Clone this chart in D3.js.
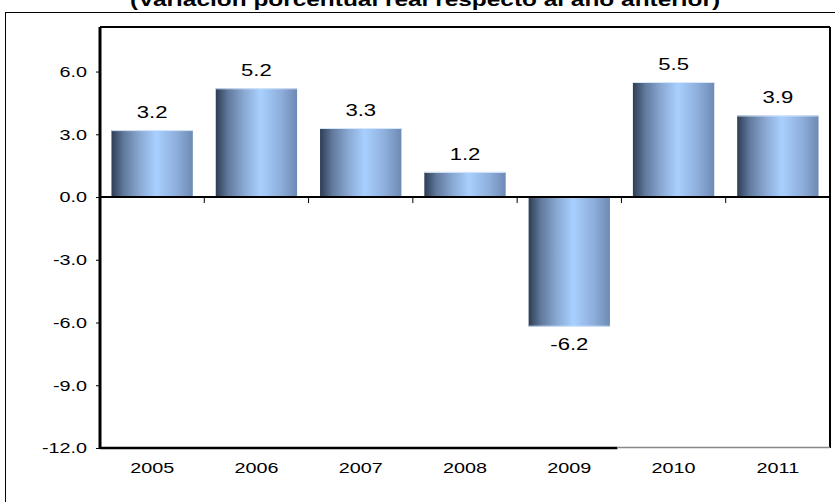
<!DOCTYPE html>
<html>
<head>
<meta charset="utf-8">
<script src="https://cdn.jsdelivr.net/npm/d3@7"></script>
<style>
  body { margin: 0; background: #fff; }
  text { font-family: "Liberation Sans", Arial, sans-serif; fill: #000; }
</style>
</head>
<body>
<div class="chart"></div>
<script>
// data
var years = ["2005", "2006", "2007", "2008", "2009", "2010", "2011"];
var values = [3.2, 5.2, 3.3, 1.2, -6.2, 5.5, 3.9];
var yTicks = [6, 3, 0, -3, -6, -9, -12];
var title = "(Variación porcentual real respecto al año anterior)";

var svgWidth = 835, svgHeight = 502;
var plot = { left: 100, right: 830, top: 27, bottom: 448 };
// the original picture is stretched sideways, so the text is too
var stretch = 1.32;

var svg = d3.select(".chart").append("svg")
  .attr("width", svgWidth)
  .attr("height", svgHeight);

// gradient for the bars
var grad = svg.append("defs").append("linearGradient")
  .attr("id", "barGrad")
  .attr("x1", "0%").attr("x2", "100%").attr("y1", "0%").attr("y2", "0%");
grad.append("stop").attr("offset", "0%").attr("stop-color", "#2d3d54");
grad.append("stop").attr("offset", "15%").attr("stop-color", "#61799c");
grad.append("stop").attr("offset", "35%").attr("stop-color", "#8aa9d3");
grad.append("stop").attr("offset", "55%").attr("stop-color", "#a8d0ff");
grad.append("stop").attr("offset", "80%").attr("stop-color", "#8eaedb");
grad.append("stop").attr("offset", "100%").attr("stop-color", "#6d8ab3");

// outer frame
svg.append("rect")
  .attr("x", 5.5).attr("y", 12.5)
  .attr("width", 840).attr("height", 520)
  .attr("fill", "none").attr("stroke", "#000").attr("stroke-width", 1);

// title (cut at the top like the original)
svg.append("text")
  .attr("transform", `translate(425,6) scale(${stretch},1)`)
  .attr("text-anchor", "middle")
  .attr("font-size", "18.5px")
  .attr("font-weight", "bold")
  .text(title);

var x = d3.scaleBand()
  .domain(years)
  .range([plot.left, plot.right])
  .paddingInner(0.22)
  .paddingOuter(0.11);

var xBand = d3.scaleBand()
  .domain(years)
  .range([plot.left, plot.right]);

var y = d3.scaleLinear()
  .domain([-12, 8.13])
  .range([plot.bottom, plot.top]);

// bars
svg.selectAll("rect.bar")
  .data(values)
  .enter()
  .append("rect")
  .attr("class", "bar")
  .attr("x", (d, i) => x(years[i]))
  .attr("y", d => y(Math.max(0, d)))
  .attr("width", x.bandwidth())
  .attr("height", d => Math.abs(y(d) - y(0)))
  .attr("fill", "url(#barGrad)");

// light edge on bar end
svg.selectAll("line.cap")
  .data(values)
  .enter()
  .append("line")
  .attr("class", "cap")
  .attr("x1", (d, i) => x(years[i]))
  .attr("x2", (d, i) => x(years[i]) + x.bandwidth())
  .attr("y1", d => y(d) + (d > 0 ? 0.5 : -0.5))
  .attr("y2", d => y(d) + (d > 0 ? 0.5 : -0.5))
  .attr("stroke", "#d6e6fb")
  .attr("stroke-width", 1);

// value labels
svg.selectAll("text.val")
  .data(values)
  .enter()
  .append("text")
  .attr("class", "val")
  .attr("transform", (d, i) => {
    var cx = x(years[i]) + x.bandwidth() / 2;
    var cy = d >= 0 ? y(d) - 12 : y(d) + 23;
    return `translate(${cx},${cy}) scale(1.38,1)`;
  })
  .attr("text-anchor", "middle")
  .attr("font-size", "16px")
  .text(d => d.toFixed(1));

// y axis
var yAxis = d3.axisLeft(y)
  .tickValues(yTicks)
  .tickSize(4)
  .tickFormat(d => d.toFixed(1));

var gy = svg.append("g")
  .attr("transform", `translate(${plot.left},0)`)
  .call(yAxis);
gy.select(".domain").remove();
gy.selectAll("line").attr("stroke", "#000");
gy.selectAll("text")
  .attr("x", 0)
  .attr("transform", `translate(-13,0) scale(${stretch},1)`)
  .attr("font-size", "15px")
  .attr("font-family", "Liberation Sans, Arial, sans-serif")
  .attr("fill", "#000");

// category ticks on zero line (at band boundaries)
var bounds = years.slice(1).map(d => xBand(d));
svg.selectAll("line.xtick")
  .data(bounds)
  .enter()
  .append("line")
  .attr("class", "xtick")
  .attr("x1", d => d).attr("x2", d => d)
  .attr("y1", y(0)).attr("y2", y(0) + 6)
  .attr("stroke", "#000");

// zero line
svg.append("line")
  .attr("x1", plot.left).attr("x2", plot.right)
  .attr("y1", y(0)).attr("y2", y(0))
  .attr("stroke", "#000").attr("stroke-width", 2);

// plot frame
svg.append("line")
  .attr("x1", plot.left).attr("x2", plot.left)
  .attr("y1", plot.top).attr("y2", plot.bottom + 1)
  .attr("stroke", "#000").attr("stroke-width", 3);
svg.append("line")
  .attr("x1", plot.left).attr("x2", plot.right)
  .attr("y1", plot.top).attr("y2", plot.top)
  .attr("stroke", "#000").attr("stroke-width", 2);
svg.append("line")
  .attr("x1", plot.right).attr("x2", plot.right)
  .attr("y1", plot.top).attr("y2", plot.bottom)
  .attr("stroke", "#000").attr("stroke-width", 2);
// bottom border: black then a grey stretch, as in the original
var split = xBand("2010") - 4;
svg.append("line")
  .attr("x1", plot.left).attr("x2", split)
  .attr("y1", plot.bottom).attr("y2", plot.bottom)
  .attr("stroke", "#000").attr("stroke-width", 2.5);
svg.append("line")
  .attr("x1", split).attr("x2", plot.right)
  .attr("y1", plot.bottom - 0.5).attr("y2", plot.bottom - 0.5)
  .attr("stroke", "#888").attr("stroke-width", 1.5);

// year labels
svg.selectAll("text.year")
  .data(years)
  .enter()
  .append("text")
  .attr("class", "year")
  .attr("transform", d => `translate(${xBand(d) + xBand.bandwidth() / 2},${plot.bottom + 25}) scale(${stretch},1)`)
  .attr("text-anchor", "middle")
  .attr("font-size", "15px")
  .text(d => d);
</script>
</body>
</html>
